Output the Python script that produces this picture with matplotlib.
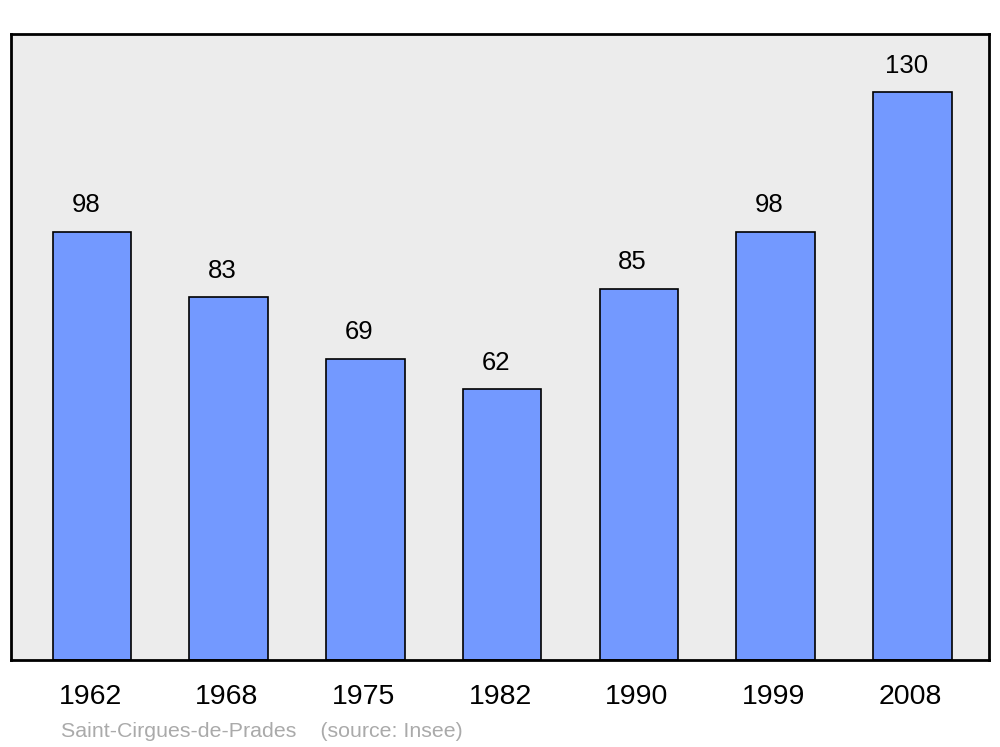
import matplotlib.pyplot as plt

plt.rcParams['font.family'] = ['Liberation Sans', 'DejaVu Sans']

years = ['1962', '1968', '1975', '1982', '1990', '1999', '2008']
population = [98, 83, 69, 62, 85, 98, 130]
town = 'Saint-Cirgues-de-Prades'
source = '(source: Insee)'

fig = plt.figure(figsize=(10, 7.47), dpi=100)
ax = fig.add_axes([0.011, 1 - 660 / 747, 0.978, 626 / 747])
ax.set_facecolor('#ececec')

x = range(len(years))
ax.bar(x, population, width=0.575, color='#7399ff', edgecolor='black',
       linewidth=1.2, zorder=2)

for i, v in enumerate(population):
    ax.text(i - 0.045, v + 3.3, str(v), ha='center', va='bottom', fontsize=18.5)

ax.set_xlim(-0.593, 6.561)
ax.set_ylim(0, 143.3)
ax.set_yticks([])
ax.set_xticks([i - 0.015 for i in x])
ax.set_xticklabels(years, fontsize=20.5)
ax.tick_params(axis='x', length=0, pad=17)
for s in ax.spines.values():
    s.set_linewidth(2)

fig.text(0.061, 0.014, town + '    ' + source, color='#aaaaaa', fontsize=15.4)

fig.savefig('out.png')
